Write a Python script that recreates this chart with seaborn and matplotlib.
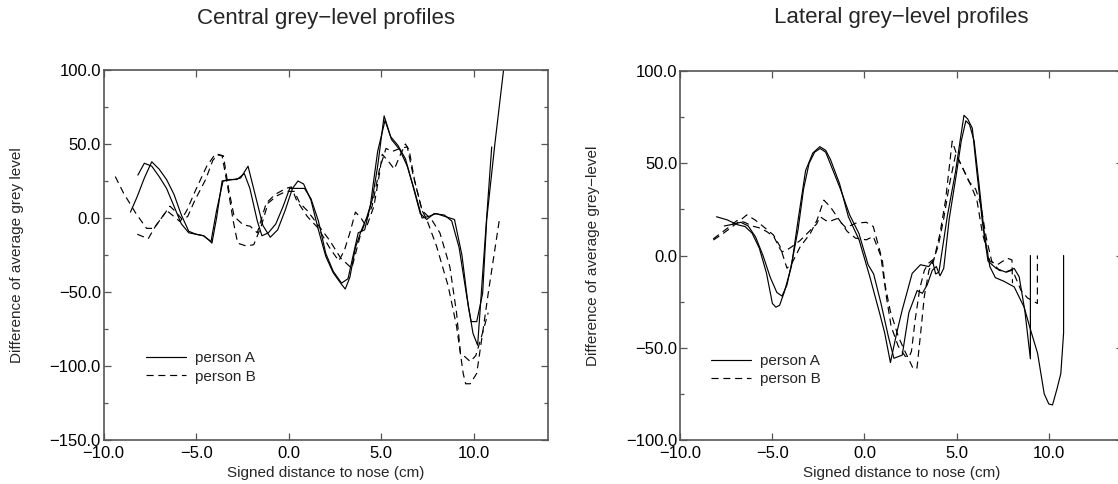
import matplotlib
matplotlib.use("Agg")
import matplotlib.pyplot as plt
from matplotlib.lines import Line2D
from matplotlib.ticker import MultipleLocator, FuncFormatter
import numpy as np
import pandas as pd
import seaborn as sns

# ---- Central grey-level profiles ----
central_a1_x = [-8.55, -8.2, -7.8, -7.4, -7.0, -6.6, -6.2, -5.8, -5.4, -5.0, -4.6, -4.2, -3.9, -3.55,
                -3.0, -2.6, -2.2, -1.8, -1.4, -1.0, -0.6, -0.2, 0.2, 0.5, 0.8, 1.2, 1.6, 2.0, 2.4, 2.8,
                3.05, 3.3, 3.6, 3.9, 4.2, 4.5, 4.8, 5.15, 5.5, 5.9, 6.3, 6.7, 7.1, 7.45, 7.85, 8.4, 8.8,
                9.2, 9.6, 9.95, 10.2, 10.6, 10.96]
central_a1_y = [4, 14, 27, 38, 33, 26, 16, 2, -9, -11, -12, -16, 5, 25,
                26, 27, 35, 15, -5, -13, -8, 5, 20, 25, 23, 12, -8, -26, -37, -44,
                -48, -40, -20, -9, 0, 12, 35, 69, 55, 49, 40, 22, 3, -1, 3, 2, -2,
                -20, -52, -78, -86, -15, 48]

central_a2_x = [-8.15, -7.8, -7.4, -7.0, -6.6, -6.2, -5.8, -5.4, -5.0, -4.6, -4.3, -4.15, -3.9, -3.6,
                -3.2, -2.8, -2.4, -2.1, -1.7, -1.45, -1.1, -0.7, -0.3, 0.05, 0.4, 0.85, 1.2, 1.6, 2.0,
                2.4, 2.85, 3.2, 3.5, 3.75, 4.1, 4.4, 4.8, 5.2, 5.55, 6.0, 6.4, 6.8, 7.2, 7.55, 7.95,
                8.45, 8.95, 9.35, 9.7, 9.85, 10.15, 10.47, 10.69, 11.13, 11.6]
central_a2_y = [29, 37, 35, 28, 20, 8, -4, -10, -11, -12, -15, -17, 0, 25,
                26, 26, 30, 20, -2, -12, -10, -4, 8, 20, 20, 20, 13, -2, -24,
                -36, -44, -41, -24, -10, -8, 8, 45, 66, 53, 46, 35, 18, 0, 1, 3,
                1, -1, -25, -60, -70, -70, -51, -1, 50, 100]

central_b1_x = [-9.37, -8.93, -8.25, -7.68, -7.29, -6.81, -6.42, -6.13, -5.75, -5.46, -5.07, -4.49,
                -4.1, -3.82, -3.53, -3.24, -2.95, -2.47, -2.08, -1.7, -1.22, -0.73, -0.15, 0.14, 0.42,
                1.0, 1.6, 2.2, 2.7, 3.0, 3.3, 3.6, 3.9, 4.2, 4.6, 4.9, 5.05, 5.4, 5.7, 6.0, 6.3, 6.5,
                6.8, 7.2, 7.45, 7.98, 8.61, 9.06, 9.42, 9.55, 9.8, 10.15, 10.5, 10.77, 11.4]
central_b1_y = [28, 17, 3, -7, -7, 1, 8, 4.5, -1, 1, 12, 26,
                39, 43, 42, 19, 1, -4.5, -5.6, -10, 10, 16, 20, 21, 12,
                1, -7, -20, -29, -22, -10, 4, 0, -6, 8, 30, 43, 38, 33, 42, 50, 46,
                25, 5, -1, -19, -46, -73, -105, -112, -112, -105, -75, -51, 1]

central_b2_x = [-8.18, -7.59, -7.22, -6.59, -6.2, -5.87, -5.51, -5.06, -4.43, -3.98, -3.6, -3.27,
                -3.0, -2.76, -2.28, -1.89, -1.5, -1.12, -0.64, -0.15, 0.3, 0.6, 1.0, 1.6, 2.2, 2.8,
                3.4, 3.9, 4.5, 4.9, 5.25, 5.6, 6.0, 6.4, 6.7, 7.2, 7.71, 8.16, 8.7, 9.06, 9.27, 9.8,
                10.1, 10.41, 10.77]
central_b2_y = [-11, -14, -6, 5, 1, -2.5, 5, 18, 35, 43, 42, 19,
                -2, -17, -19, -18, -6, 10, 15, 18, 18, 10, 5, -5, -15, -27,
                -34, -10, 8, 33, 47, 45, 47, 48, 30, 5, -1, -10, -33, -64, -91, -97,
                -93, -80, -64]

# ---- Lateral grey-level profiles ----
lateral_a1_x = [-8.02, -7.44, -6.86, -6.47, -6.09, -5.7, -5.31, -4.99, -4.8, -4.6, -4.35, -3.96,
                -3.57, -3.19, -2.8, -2.42, -2.1, -1.84, -1.35, -0.87, -0.29, 0.29, 0.87, 1.1, 1.41,
                1.75, 2.05, 2.59, 3.04, 3.49, 3.7, 3.86, 4.04, 4.49, 4.95, 5.2, 5.4, 5.6, 5.85, 6.1,
                6.4, 6.7, 7.15, 7.66, 8.12, 8.39, 8.7, 9.0, 9.0]
lateral_a1_y = [21, 19.3, 16.6, 15.7, 12.1, 4, -9.6, -26, -28, -27, -20, -6,
                21, 46, 55.5, 59, 57, 52, 39, 21, 8.5, -11.4, -33, -42, -58,
                -42, -29.5, -9.7, -5, -6, -3, -10, -9, 21, 46, 63, 76, 74, 69, 45,
                18, -3, -7, -9, -7, -11.5, -30, -56, 0]

lateral_a2_x = [-7.6, -7.1, -6.7, -6.3, -5.9, -5.5, -5.1, -4.75, -4.47, -4.2, -3.9, -3.6, -3.3,
                -3.0, -2.7, -2.4, -2.1, -1.7, -1.3, -0.8, -0.3, 0.2, 0.5, 0.9, 1.3, 1.6, 2.05, 2.41,
                2.86, 3.14, 3.4, 3.68, 3.9, 4.1, 4.3, 4.6, 5.0, 5.25, 5.5, 5.7, 5.95, 6.2, 6.5, 6.8,
                7.1, 7.57, 8.12, 8.66, 9.0, 9.39, 9.75, 10.0, 10.2, 10.45, 10.65, 10.8, 10.8]
lateral_a2_y = [16, 17, 18, 16, 10, 0, -12, -20, -22, -16, -2, 14, 36,
                50, 56, 58, 56, 46, 36, 22, 12, -5, -10, -26, -44, -55.7, -54, -31,
                -19, -20.5, -16, -8, -6, -11, -7, 20, 45, 62, 73, 71, 62, 40, 12, -6,
                -12, -14, -17, -28, -40, -53, -75, -80.5, -81, -72, -64, -42, 0]

lateral_b1_x = [-8.19, -7.65, -6.92, -6.38, -5.92, -5.47, -4.93, -4.57, -4.2, -3.93, -3.48, -2.93,
                -2.57, -2.2, -1.85, -1.48, -0.93, -0.48, 0.1, 0.48, 0.97, 1.16, 1.45, 1.84, 2.22,
                2.42, 2.55, 2.75, 3.0, 3.25, 3.5, 3.75, 4.0, 4.3, 4.6, 4.95, 5.2, 5.6, 5.9, 6.1, 6.4,
                6.8, 7.21, 7.75, 8.0, 8.03]
lateral_b1_y = [8.4, 12, 17.5, 22, 19.2, 15.6, 11.1, 4.8, -6.9, -4.2, 4.8, 12,
                19.2, 30, 26.4, 21, 13, 9.4, 8.5, 10.3, -2.3, -20.4, -38.5, -49.3, -54.7,
                -55, -52, -35, -18, -8, -4, -2, 5, 20, 38, 55, 50, 42, 35, 30, 12,
                -3, -5, -1.5, -2.4, -15]

lateral_b2_x = [-8.2, -7.8, -7.4, -6.9, -6.5, -6.1, -5.7, -5.3, -4.9, -4.6, -4.47, -4.2, -3.93,
                -3.5, -3.0, -2.6, -2.4, -2.1, -1.94, -1.48, -1.0, -0.48, 0.1, 0.48, 0.87, 1.06, 1.4,
                1.84, 2.2, 2.42, 2.65, 2.85, 3.05, 3.25, 3.5, 3.75, 4.1, 4.4, 4.76, 5.04, 5.67, 6.03,
                6.3, 6.6, 6.9, 7.3, 7.7, 8.03, 8.48, 8.84, 9.2, 9.38, 9.38]
lateral_b2_y = [9, 12, 15, 19, 18, 16, 15, 13, 10, 4, 2, 3, 4.8,
                8, 13, 17, 21, 19, 18.3, 20, 15, 17.5, 18, 15.7, 1.3, -13, -30,
                -44, -52, -56.5, -61.5, -61, -42, -22, -8, -3, 12, 30, 62, 53.6, 40, 36,
                28, 10, -3, -8, -9, -7.9, -18.7, -23, -25, -26, 0]

persons = ["person A", "person A", "person B", "person B"]
legend_labels = ["person A", "person B"]


def profile_frame(curves):
    frames = []
    for i, ((xs, ys), who) in enumerate(zip(curves, persons)):
        frames.append(pd.DataFrame({"x": xs, "y": ys, "person": who, "profile": i,
                                    "order": np.arange(len(xs))}))
    return pd.concat(frames, ignore_index=True)


central = profile_frame([(central_a1_x, central_a1_y), (central_a2_x, central_a2_y),
                         (central_b1_x, central_b1_y), (central_b2_x, central_b2_y)])
lateral = profile_frame([(lateral_a1_x, lateral_a1_y), (lateral_a2_x, lateral_a2_y),
                         (lateral_b1_x, lateral_b1_y), (lateral_b2_x, lateral_b2_y)])

sns.set_style("ticks")
plt.rcParams["font.family"] = ["Liberation Sans", "DejaVu Sans"]
plt.rcParams["axes.unicode_minus"] = True

W, H = 1118, 484
fig = plt.figure(figsize=(W / 100, H / 100), dpi=100)

# axes boxes in pixels: (left, top, right, bottom)
boxes = [(103.6, 70, 548, 440), (680, 71, 1122.6, 440)]
titles = ["Central grey\u2212level profiles", "Lateral grey\u2212level profiles"]
ylabels = ["Difference of average grey level", "Difference of average grey\u2212level"]
ylims = [(-150, 100), (-100, 100)]
frames = [central, lateral]
legend_anchor = [(0.095, 0.152), (0.07, 0.145)]

dash_map = {"person A": "", "person B": (6, 4)}
spine_col = "#555555"


def fmt(v, _pos):
    return f"{v:.1f}".replace("-", "\u2212")


for k in range(2):
    l, t, r, b = boxes[k]
    ax = fig.add_axes([l / W, 1 - b / H, (r - l) / W, (b - t) / H])
    sns.lineplot(data=frames[k], x="x", y="y", units="profile", style="person",
                 estimator=None, sort=False, color="black", dashes=dash_map,
                 linewidth=0.85, legend=False, ax=ax)
    ax.set_xlim(-10, 14)
    ax.set_ylim(*ylims[k])
    ax.xaxis.set_major_locator(MultipleLocator(5))
    ax.yaxis.set_major_locator(MultipleLocator(50))
    ax.yaxis.set_minor_locator(MultipleLocator(25))
    ax.xaxis.set_major_formatter(FuncFormatter(fmt))
    ax.yaxis.set_major_formatter(FuncFormatter(fmt))
    ax.tick_params(axis="both", which="major", direction="in", length=5, width=0.9,
                   color=spine_col, labelsize=12, labelcolor="black")
    ax.tick_params(axis="x", which="major", pad=4)
    ax.tick_params(axis="y", which="major", pad=2)
    ax.tick_params(axis="y", which="minor", direction="in", length=3, width=0.9,
                   color=spine_col, left=True, right=True)
    ax.tick_params(axis="x", which="both", top=True, bottom=True)
    ax.tick_params(axis="y", which="major", left=True, right=True)
    for s in ax.spines.values():
        s.set_color(spine_col)
        s.set_linewidth(1.2)

    ax.set_xlabel("Signed distance to nose (cm)", fontsize=11)
    ax.set_ylabel(ylabels[k], fontsize=11)
    ax.xaxis.label.set_verticalalignment("center")
    ax.yaxis.label.set_verticalalignment("center")
    ax.xaxis.set_label_coords(0.5, -(473 - b) / (b - t))
    ylab_x = [17, 593][k]
    ax.yaxis.set_label_coords((ylab_x - l) / (r - l), 0.5)

    ax.text(0.5, 1 + (t - 18) / (b - t), titles[k], transform=ax.transAxes,
            ha="center", va="center", fontsize=16)

    handles = [Line2D([], [], color="black", lw=0.85, linestyle="-"),
               Line2D([], [], color="black", lw=0.85, dashes=(6, 4))]
    ax.legend(handles, legend_labels, loc="lower left", bbox_to_anchor=legend_anchor[k],
              frameon=False, fontsize=11, handlelength=2.6, handletextpad=0.6,
              labelspacing=0.3, borderaxespad=0, borderpad=0)

fig.savefig("out.png", dpi=100)
